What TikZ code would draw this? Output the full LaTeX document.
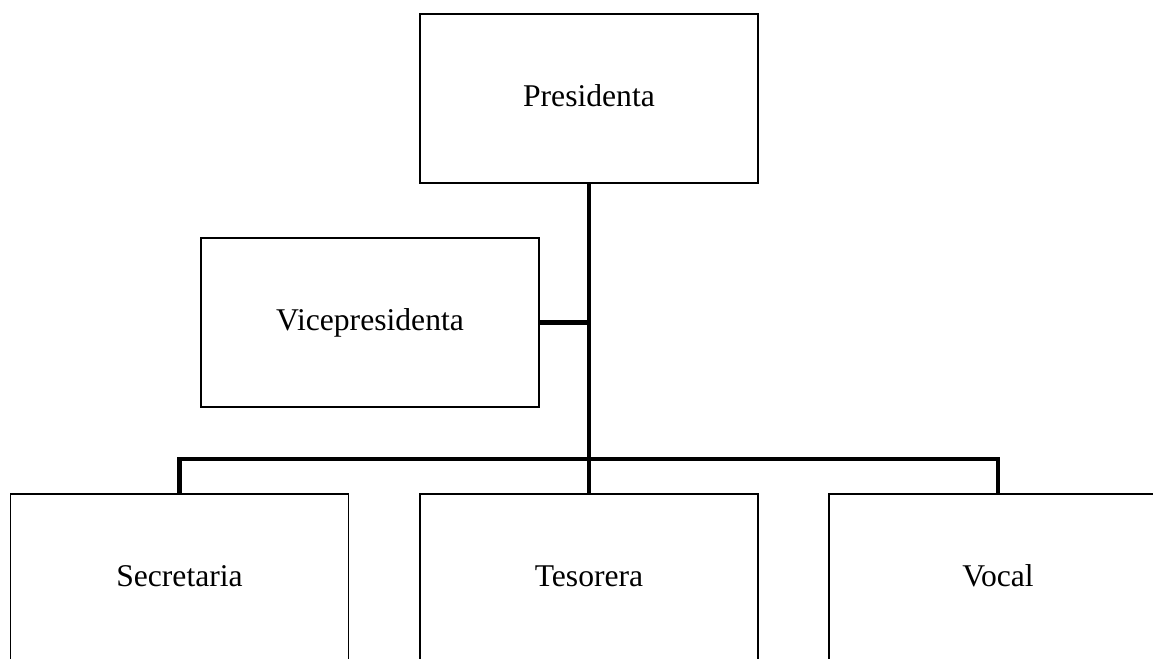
\documentclass[tikz,border=0pt]{standalone}
\usepackage{fontspec}
\setmainfont{Liberation Serif}
\begin{document}
\begin{tikzpicture}[cargo/.style={draw, line width=1.1pt, minimum width=6.76cm, minimum height=3.38cm, inner sep=0pt, text height=2.3ex, text depth=.4ex, font=\fontsize{18}{22}\selectfont},
  linea/.style={line width=2.8pt}]
  \useasboundingbox (0,0) rectangle (23.06,13.16);
  \draw node[cargo] (pres) at (11.78,11.19) {Presidenta};
  \draw node[cargo] (vice) at (7.40,6.71) {Vicepresidenta};
  \draw node[cargo] (secr) at (3.59,1.59) {Secretaria};
  \draw node[cargo] (teso) at (11.78,1.59) {Tesorera};
  \draw node[cargo] (voca) at (19.96,1.59) {Vocal};
  \coordinate (bus) at (11.78,3.98);
  \draw [linea] (pres.south) -- (teso.north);
  \draw [linea] (vice.east) -- (vice.east -| pres.south);
  \draw [linea] (secr.north) |- (bus) -| (voca.north);
\end{tikzpicture}
\end{document}
